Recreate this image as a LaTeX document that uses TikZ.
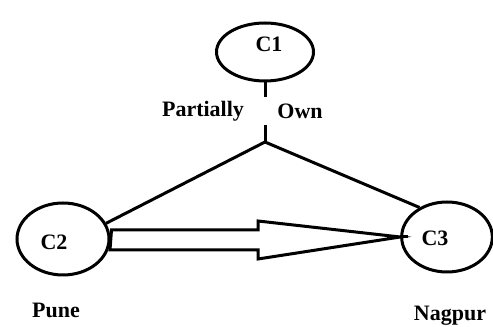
\documentclass[tikz,border=0pt]{standalone}
\usepackage{fontspec}
\setmainfont{Liberation Serif}
\usetikzlibrary{shapes.geometric}

\begin{document}
\begin{tikzpicture}[x=0.75pt,y=0.75pt,yscale=-1,xscale=1,
  city/.style={draw, ellipse, line width=2.25pt, inner sep=0pt},
  txt/.style={inner sep=0.75pt, font=\bfseries\fontsize{16.5}{18}\selectfont},
  link/.style={line width=2.25pt}]
\useasboundingbox (0,0) rectangle (493,327);

%Shape: Ellipse [id:c1]
\node [city, minimum width=72.75pt, minimum height=43.5pt] (c1) at (265,52) {};
%Shape: Ellipse [id:c2]
\node [city, minimum width=69pt, minimum height=54pt] (c2) at (63,239) {};
%Shape: Ellipse [id:c3]
\node [city, minimum width=68pt, minimum height=52.5pt] (c3) at (447,237) {};

\coordinate (g1) at (265,97);
\coordinate (g2) at (265,125);
\coordinate (j) at (265,142);

%Straight Lines [id:stem]
\draw [link] (c1.south) -- (g1);
\draw [link] (g2) -- (j);
%Straight Lines [id:legs]
\draw [link] (j) -- (c2.20);
\draw [link] (j) -- (c3.133);

%Shape: Hollow arrow [id:arrow]
\draw [link, line join=miter] (c2.east) ++(1,-9) -- (258,230) -- (258,221) -- (c3.west) -- (258,259) -- (258,250) -- (110,250) -- cycle;
\draw [link] (c3.west) -- ++(8,0);

% Text Node
\node [txt] (c1t) at (269,44) {C1};
% Text Node
\node [txt] (c2t) at (54,242) {C2};
% Text Node
\node [txt] (c3t) at (435,238) {C3};
% Text Node
\node [txt] (partially) at (203,111) {Partially};
% Text Node
\node [txt] (own) at (300,111) {Own};
% Text Node
\node [txt] (pune) at (56,310) {Pune};
% Text Node
\node [txt] (nagpur) at (450,316) {Nagpur};

\end{tikzpicture}
\end{document}
